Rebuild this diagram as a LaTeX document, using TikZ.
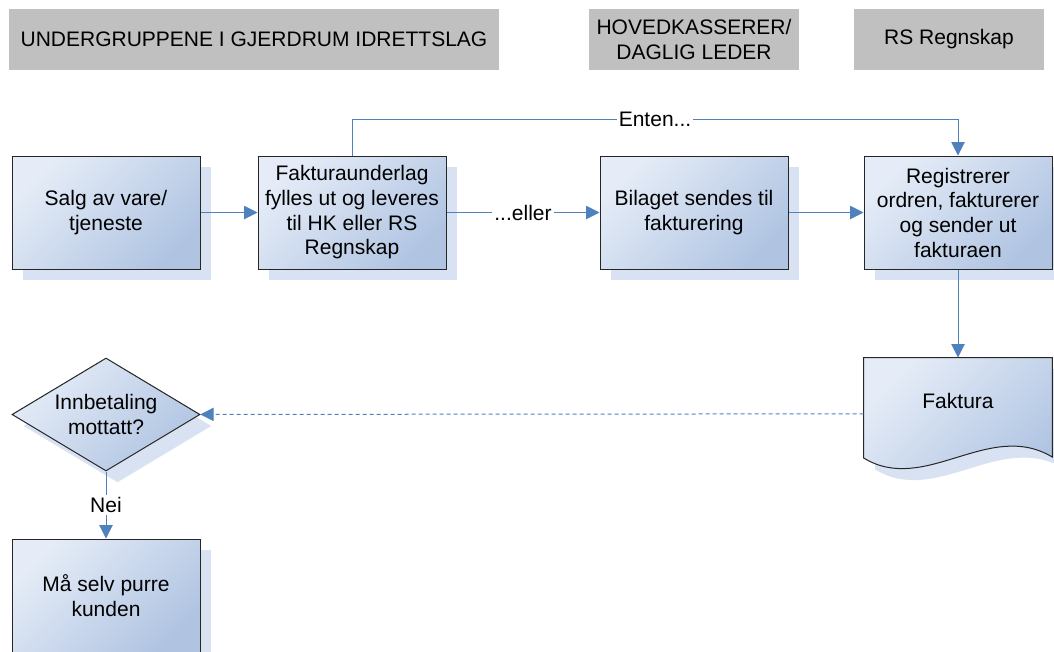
\documentclass[tikz,border=0pt]{standalone}
\usepackage{fontspec}
\setmainfont{Liberation Sans}
\usetikzlibrary{positioning, arrows.meta, shapes.geometric, shadows, backgrounds}
\definecolor{lanegray}{RGB}{192,192,192}
\definecolor{boxlight}{RGB}{229,236,247}
\definecolor{boxdark}{RGB}{176,196,226}
\definecolor{shadowblue}{RGB}{217,226,242}
\definecolor{flowblue}{RGB}{79,129,189}
\tikzset{%
  lane/.style={
    fill=lanegray,
    minimum height=45.75pt,
    align=center
  },
  boxfill/.style={
    draw=black!85,
    line width=0.75pt,
    top color=boxlight,
    bottom color=boxdark,
    shading angle=45,
    general shadow={fill=shadowblue, shadow xshift=8.6pt, shadow yshift=-8.6pt}
  },
  process/.style={
    rectangle,
    boxfill,
    minimum width=141pt,
    minimum height=84.75pt,
    align=center
  },
  decision/.style={
    diamond,
    boxfill,
    aspect=1.66,
    inner sep=0pt,
    minimum width=141pt,
    minimum height=84.75pt,
    align=center
  },
  docbox/.style={
    rectangle,
    minimum width=141pt,
    minimum height=84pt,
    align=center
  },
  flow/.style={
    -{Triangle[length=10pt, width=10pt]},
    draw=flowblue,
    line width=0.75pt
  }
}

\begin{document}
\begin{tikzpicture}[x=0.75pt, y=-0.75pt, font=\fontsize{15.75}{18.5}\selectfont]
		\useasboundingbox (0,0) rectangle (1054,651);
		% lanes
		\node[lane, minimum width=367.5pt] (ownlane) at (254,39.5) {UNDERGRUPPENE I GJERDRUM IDRETTSLAG};
		\node[lane, minimum width=157.5pt] (hklane) at (694,39.5) {HOVEDKASSERER/\\DAGLIG LEDER};
		\node[lane, minimum width=142.5pt] (rslane) at (949,39.5) {RS Regnskap};
		% first row
		\node[process] (sale) at (106,212.5) {Salg av vare/\\tjeneste};
		\node[process, right=42.75pt of sale] (basis) {Fakturaunderlag\\fylles ut og leveres\\til HK eller RS\\Regnskap};
		\node[process, right=114.75pt of basis] (voucher) {Bilaget sendes til\\fakturering};
		\node[process, right=56.25pt of voucher] (register) {Registrerer\\ordren, fakturerer\\og sender ut\\fakturaen};
		% invoice
		\node[docbox, text depth=19.5pt, below=66pt of register] (invoice) {Faktura};
		\begin{scope}[on background layer]
			\path[boxfill] (invoice.north west) -- (invoice.north east)
				-- ([yshift=9.75pt]invoice.south east)
				.. controls ([xshift=-47.25pt, yshift=38.25pt]invoice.south east) and ([xshift=45.75pt, yshift=-19pt]invoice.south west)
				.. ([yshift=9pt]invoice.south west) -- cycle;
		\end{scope}
		% payment check
		\node[decision, below=66pt of sale] (paid) {Innbetaling\\mottatt?};
		\node[process, below=50.25pt of paid] (remind) {Må selv purre\\kunden};
		% connections
		\draw[flow] (sale) -- (basis);
		\draw[flow] (basis) -- node[fill=white, inner sep=1.5pt] {...eller} (voucher);
		\draw[flow] (voucher) -- (register);
		\draw[flow] (basis.north) -- ++(0,-36) -| node[pos=0.25, fill=white, inner sep=1.5pt] {Enten...} (register.north);
		\draw[flow] (register) -- (invoice);
		\draw[flow, dash pattern=on 3pt off 2.25pt] (invoice) -- (paid);
		\draw[flow] (paid) -- node[fill=white, inner sep=1.5pt] {Nei} (remind);
\end{tikzpicture}
\end{document}
